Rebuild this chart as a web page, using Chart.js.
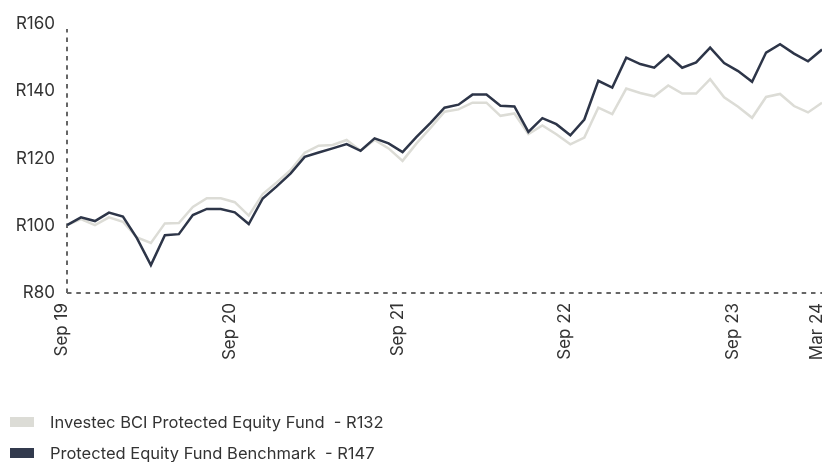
<!DOCTYPE html>
<html>
<head>
<meta charset="utf-8">
<script src="https://cdn.jsdelivr.net/npm/chart.js@4"></script>
<style>
  html, body { margin: 0; padding: 0; background: #fff; overflow: hidden; }
  #wrap { position: relative; width: 822px; height: 462px; }
  .legend { position: absolute; left: 10px; font-family: Inter, sans-serif; font-size: 16.5px; color: #333; }
  .legend span.box { position: absolute; left: 0; top: 5px; width: 24px; height: 10px; }
  .legend span.txt { position: absolute; left: 40px; top: 0; white-space: nowrap; line-height: 20px; }
</style>
</head>
<body>
<div id="wrap">
  <canvas id="chart" width="822" height="462"></canvas>
  <div class="legend" style="top:412px"><span class="box" style="background:#dcdcd6"></span><span class="txt">Investec BCI Protected Equity Fund&nbsp; - R132</span></div>
  <div class="legend" style="top:443px"><span class="box" style="background:#323a4d"></span><span class="txt">Protected Equity Fund Benchmark&nbsp; - R147</span></div>
</div>
<script>
// monthly points, Sep 19 to Mar 24
const months = [
    'Sep 19', 'Oct 19', 'Nov 19', 'Dec 19', 'Jan 20', 'Feb 20', 'Mar 20', 'Apr 20', 'May 20', 'Jun 20', 'Jul 20', 'Aug 20',
    'Sep 20', 'Oct 20', 'Nov 20', 'Dec 20', 'Jan 21', 'Feb 21', 'Mar 21', 'Apr 21', 'May 21', 'Jun 21', 'Jul 21', 'Aug 21',
    'Sep 21', 'Oct 21', 'Nov 21', 'Dec 21', 'Jan 22', 'Feb 22', 'Mar 22', 'Apr 22', 'May 22', 'Jun 22', 'Jul 22', 'Aug 22',
    'Sep 22', 'Oct 22', 'Nov 22', 'Dec 22', 'Jan 23', 'Feb 23', 'Mar 23', 'Apr 23', 'May 23', 'Jun 23', 'Jul 23', 'Aug 23',
    'Sep 23', 'Oct 23', 'Nov 23', 'Dec 23', 'Jan 24', 'Feb 24', 'Mar 24'
];
const tickLabels = ['Sep 19', 'Sep 20', 'Sep 21', 'Sep 22', 'Sep 23', 'Mar 24'];

const fundValues = [
    100.2, 102.0, 100.2, 102.5, 101.2, 96.5, 94.9, 100.7, 100.8, 105.6, 108.2, 108.2,
    107.0, 103.0, 109.4, 112.9, 116.6, 121.7, 123.8, 124.0, 125.5, 122.3, 125.5, 123.0,
    119.3, 124.5, 129.1, 133.9, 134.6, 136.6, 136.6, 132.7, 133.4, 127.3, 129.8, 127.2,
    124.2, 126.2, 135.1, 133.2, 140.8, 139.5, 138.5, 141.7, 139.3, 139.3, 143.6, 138.2,
    135.4, 132.1, 138.3, 139.2, 135.6, 133.7, 136.6
];
const benchmarkValues = [
    100.2, 102.5, 101.4, 103.9, 102.7, 96.3, 88.3, 97.2, 97.5, 103.2, 105.0, 105.0,
    104.0, 100.5, 108.1, 111.7, 115.6, 120.5, 121.8, 123.0, 124.3, 122.3, 126.0, 124.5,
    121.9, 126.4, 130.6, 135.1, 136.0, 139.0, 139.0, 135.7, 135.5, 127.9, 132.0, 130.2,
    126.9, 131.6, 143.1, 141.1, 150.0, 148.1, 147.0, 150.7, 147.0, 148.6, 153.0, 148.4,
    146.0, 142.8, 151.5, 154.0, 151.2, 148.9, 152.4
];

const tickFont = { family: 'Inter', size: 17 };

// dotted axis lines (border.dash did not show up)
const dashedAxes = {
    id: 'dashedAxes',
    beforeDatasetsDraw(chart) {
        const { ctx, chartArea } = chart;
        ctx.save();
        ctx.strokeStyle = '#666';
        ctx.lineWidth = 2;
        ctx.setLineDash([4.5, 4.8]);
        ctx.beginPath();
        ctx.moveTo(chartArea.left, chartArea.bottom);
        ctx.lineTo(chartArea.right, chartArea.bottom);
        ctx.stroke();
        ctx.beginPath();
        ctx.moveTo(chartArea.left, chartArea.bottom);
        ctx.lineTo(chartArea.left, chartArea.top + 5);
        ctx.stroke();
        ctx.restore();
    }
};

new Chart(document.getElementById('chart'), {
    type: 'line',
    data: {
        labels: months,
        datasets: [
            {
                label: 'Investec BCI Protected Equity Fund',
                data: fundValues,
                borderColor: '#dcdcd6',
                borderWidth: 2.5,
                pointRadius: 0,
                order: 1
            },
            {
                label: 'Protected Equity Fund Benchmark',
                data: benchmarkValues,
                borderColor: '#2d3548',
                borderWidth: 2.5,
                pointRadius: 0,
                order: 0
            }
        ]
    },
    options: {
        responsive: false,
        animation: false,
        layout: { padding: { top: 24, right: 0, left: 0, bottom: 0 } },
        plugins: {
            legend: { display: false },
            tooltip: { enabled: false }
        },
        scales: {
            x: {
                grid: { display: false, drawTicks: false },
                border: { display: false },
                ticks: {
                    autoSkip: false,
                    maxRotation: 90,
                    minRotation: 90,
                    padding: 10,
                    labelOffset: -5,
                    color: '#333',
                    font: tickFont,
                    callback: function (value, index) {
                        const lbl = months[index];
                        return tickLabels.includes(lbl) ? lbl : null;
                    }
                },
                afterFit: (scale) => {
                    scale.height = 169;
                    scale.paddingLeft = 0;
                    scale.paddingRight = 0;
                }
            },
            y: {
                min: 80,
                max: 160,
                grid: { display: false, drawTicks: false },
                border: { display: false },
                ticks: {
                    stepSize: 20,
                    padding: 12,
                    color: '#333',
                    font: tickFont,
                    callback: (v) => 'R' + v
                },
                afterFit: (scale) => {
                    scale.width = 67;
                }
            }
        }
    },
    plugins: [dashedAxes]
});
</script>
</body>
</html>
